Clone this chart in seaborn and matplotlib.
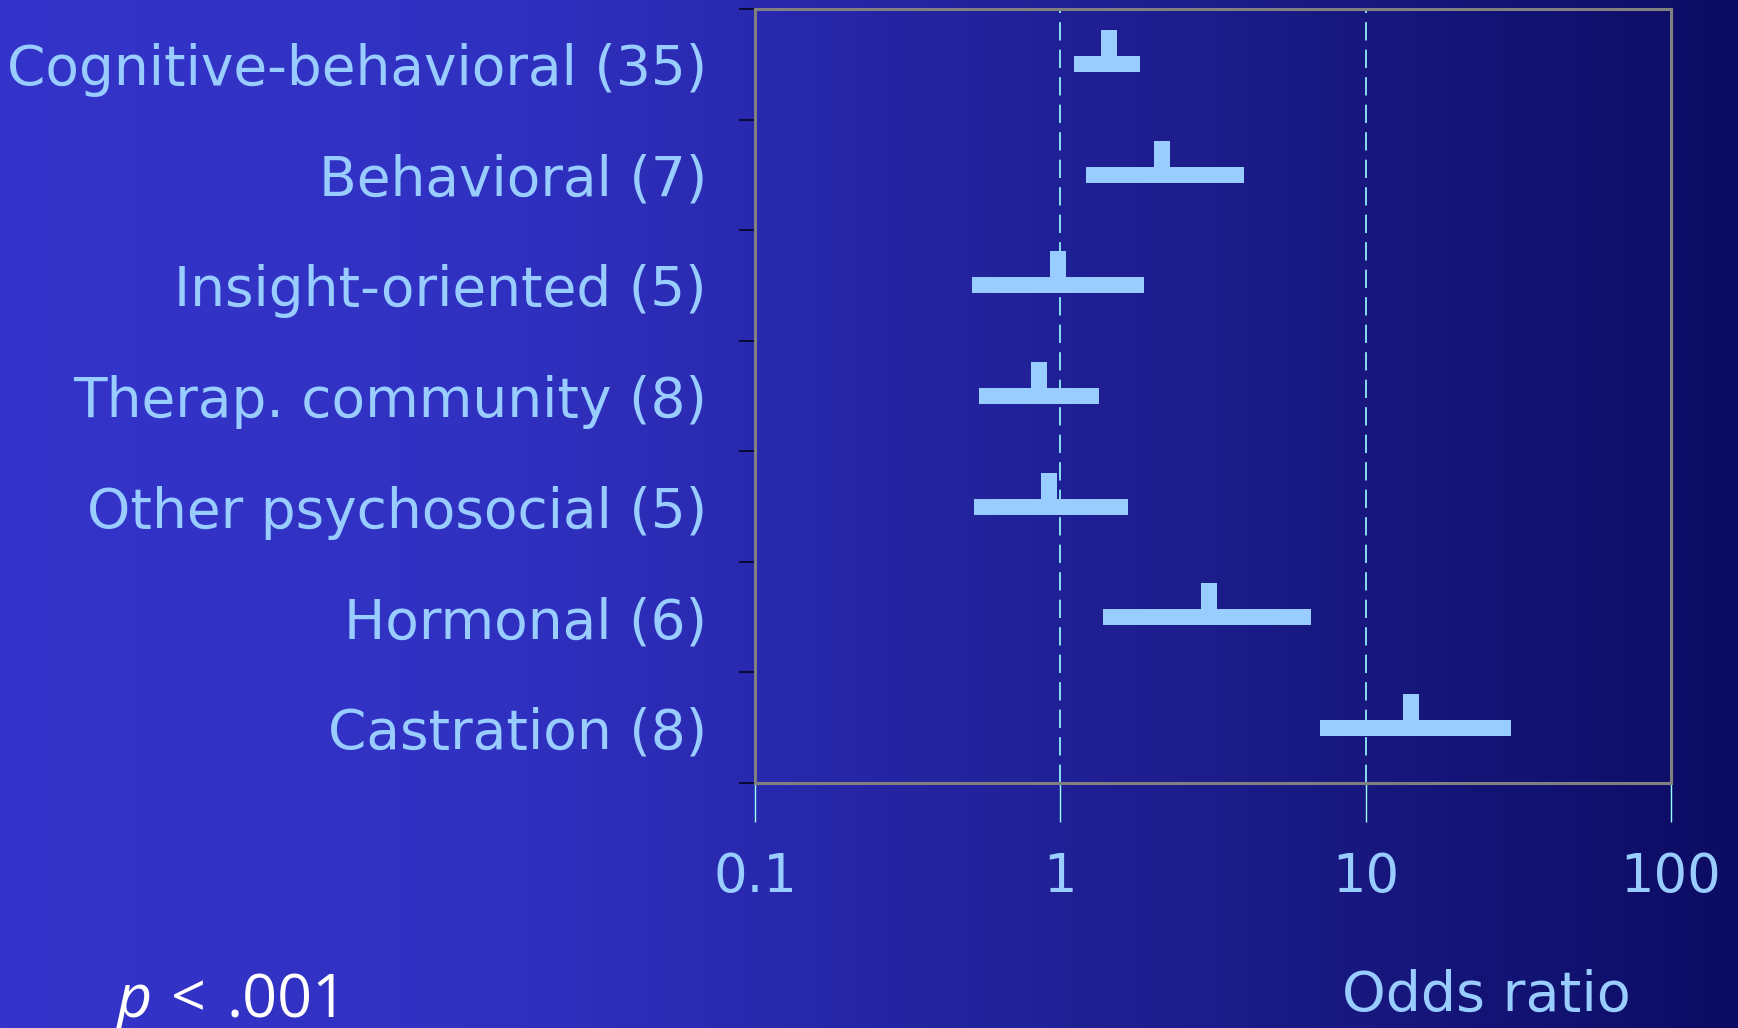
import numpy as np
import pandas as pd
import matplotlib
matplotlib.use("Agg")
import matplotlib.pyplot as plt
from matplotlib.path import Path
from matplotlib.colors import LinearSegmentedColormap
from matplotlib.ticker import NullLocator
import seaborn as sns

# values
groups = ["Cognitive-behavioral (35)", "Behavioral (7)", "Insight-oriented (5)",
          "Therap. community (8)", "Other psychosocial (5)", "Hormonal (6)",
          "Castration (8)"]
odds = [1.44, 2.16, 0.98, 0.85, 0.92, 3.07, 14.1]
ci_low = [1.11, 1.21, 0.515, 0.54, 0.52, 1.38, 7.1]
ci_high = [1.83, 4.0, 1.88, 1.34, 1.66, 6.62, 30.0]
xticks = [0.1, 1, 10, 100]
xtick_labels = ["0.1", "1", "10", "100"]
ref_lines = [1, 10]

light = "#99CCFF"
cyan = "#99FFFF"

sns.set_theme(style="ticks")
plt.rcParams["font.family"] = ["DejaVu Sans"]
plt.rcParams["lines.solid_capstyle"] = "butt"

# long form: low / point / high per group -> median = point, 100% interval = CI
df = pd.DataFrame({
    "group": np.repeat(groups, 3),
    "odds": np.ravel(np.column_stack([ci_low, odds, ci_high])),
})

fig = plt.figure(figsize=(17.38, 10.28), dpi=100)

# background gradient
bg = fig.add_axes([0, 0, 1, 1], zorder=0)
grad = LinearSegmentedColormap.from_list("bg", [
    (0.0, (52/255, 52/255, 202/255)),
    (0.3, (48/255, 48/255, 192/255)),
    (0.45, (40/255, 40/255, 172/255)),
    (0.7, (28/255, 28/255, 138/255)),
    (1.0, (12/255, 12/255, 100/255)),
])
bg.imshow(np.linspace(0, 1, 512)[None, :], aspect="auto", cmap=grad,
          extent=[0, 1, 0, 1])
bg.set_axis_off()

ax = fig.add_axes([0.4344, 0.2383, 0.5271, 0.7529], zorder=1)
ax.set_facecolor("none")

# stub marker sitting on top of the CI bar
w = 0.235
stub = Path([(-w, 0), (w, 0), (w, 1), (-w, 1), (-w, 0)], closed=True)

for xv in ref_lines:
    ax.axvline(xv, color=cyan, lw=1.2, ls=(0, (11, 5.5)), zorder=1)

sns.pointplot(data=df, x="odds", y="group", order=groups,
              estimator="median", errorbar=("pi", 100), log_scale=True,
              linestyle="none", marker=stub, markersize=49,
              markeredgewidth=0, color=light,
              err_kws={"linewidth": 11.5, "solid_capstyle": "butt"},
              ax=ax, zorder=3)

ax.set_xlim(0.1, 100)
ax.set_ylim(6.5, -0.5)
ax.set_xticks(xticks, labels=xtick_labels)
ax.xaxis.set_minor_locator(NullLocator())
ax.tick_params(axis="x", which="major", length=28, width=1, color=cyan,
               pad=21, labelsize=38, labelcolor=light)

ax.set_yticks(range(len(groups)), labels=groups)
ax.set_yticks(np.arange(-0.5, len(groups)), minor=True)
ax.tick_params(axis="y", which="major", length=0, pad=34.6,
               labelsize=39.6, labelcolor=light)
ax.tick_params(axis="y", which="minor", length=11.5, width=1.2,
               color="#050520", direction="out")
ax.set_xlabel("")
ax.set_ylabel("")

for s in ax.spines.values():
    s.set_color("#808080")
    s.set_linewidth(2.2)
    s.set_visible(True)

fig.text(1486/1738, 17/1028, "Odds ratio", ha="center", va="baseline",
         fontsize=40, color=light)
fig.text(116/1738, 11/1028, "p", ha="left", va="baseline", fontsize=44,
         style="italic", color="white", family=["Open Sans", "DejaVu Sans"])
fig.text(171/1738, 11/1028, "<", ha="left", va="baseline", fontsize=44,
         color="white", family=["Open Sans", "DejaVu Sans"])
fig.text(226/1738, 11/1028, ".001", ha="left", va="baseline", fontsize=44,
         color="white", family=["Open Sans", "DejaVu Sans"])

fig.savefig("out.png", dpi=100)
